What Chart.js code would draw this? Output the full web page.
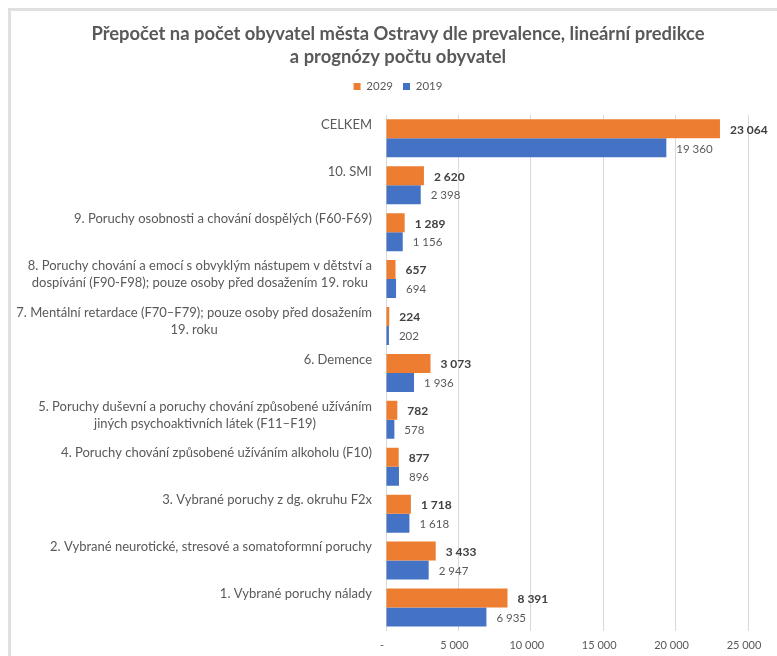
<!DOCTYPE html>
<html>
<head>
<meta charset="utf-8">
<script src="https://cdn.jsdelivr.net/npm/chart.js@4"></script>
<style>
  html, body { margin: 0; padding: 0; background: #fff; }
  #wrap { position: relative; width: 777px; height: 656px; overflow: hidden; }
  #frame { position: absolute; left: 8px; top: 8px; width: 800px; height: 700px;
    border-left: 3px solid #e0e0e0; border-top: 3px solid #e0e0e0; }
  #box { position: absolute; left: 0; top: 0; width: 777px; height: 656px; }
</style>
</head>
<body>
<div id="wrap">
  <div id="frame"></div>
  <div id="box"><canvas id="chart"></canvas></div>
</div>
<script>
const categories = [
  "CELKEM",
  "10. SMI",
  "9. Poruchy osobnosti a chování dospělých (F60-F69)",
  ["8. Poruchy chování a emocí s obvyklým nástupem v dětství a", "dospívání (F90-F98); pouze osoby před dosažením 19. roku"],
  ["7. Mentální retardace (F70–F79); pouze osoby před dosažením", "19. roku"],
  "6. Demence",
  ["5. Poruchy duševní a poruchy chování způsobené užíváním", "jiných psychoaktivních látek (F11–F19)"],
  "4. Poruchy chování způsobené užíváním alkoholu (F10)",
  "3. Vybrané poruchy z dg. okruhu F2x",
  "2. Vybrané neurotické, stresové a somatoformní poruchy",
  "1. Vybrané poruchy nálady"
];
const values2029 = [23064, 2620, 1289, 657, 224, 3073, 782, 877, 1718, 3433, 8391];
const values2019 = [19360, 2398, 1156, 694, 202, 1936, 578, 896, 1618, 2947, 6935];
const xTicks = [0, 5000, 10000, 15000, 20000, 25000];

const FONT = "Lato, 'Liberation Sans', sans-serif";

function fmt(n) {
  return String(n).replace(/\B(?=(\d{3})+(?!\d))/g, " ");
}

// value labels at the end of each bar
const valueLabels = {
  id: "valueLabels",
  afterDatasetsDraw(chart) {
    const ctx = chart.ctx;
    ctx.save();
    ctx.textAlign = "left";
    ctx.textBaseline = "middle";
    chart.data.datasets.forEach((ds, di) => {
      const meta = chart.getDatasetMeta(di);
      ctx.font = di === 0 ? "bold 12px " + FONT : "11.5px " + FONT;
      ctx.fillStyle = di === 0 ? "#404040" : "#595959";
      meta.data.forEach((bar, i) => {
        ctx.fillText(fmt(ds.data[i]), bar.x + 10, bar.y + 1);
      });
    });
    ctx.restore();
  }
};

// category labels, block right aligned, lines centred, top of band
const categoryLabels = {
  id: "categoryLabels",
  afterDraw(chart) {
    const ctx = chart.ctx;
    const y = chart.scales.y;
    const band = (y.bottom - y.top) / categories.length;
    const right = chart.chartArea.left - 14;
    ctx.save();
    ctx.font = "13px " + FONT;
    ctx.fillStyle = "#595959";
    ctx.textAlign = "center";
    ctx.textBaseline = "middle";
    categories.forEach((lab, i) => {
      const lines = Array.isArray(lab) ? lab : [lab];
      const w = Math.max(...lines.map((l) => ctx.measureText(l).width));
      const top = y.getPixelForTick(i) - band / 2;
      lines.forEach((l, k) => {
        ctx.fillText(l, right - w / 2, top + 10 + k * 17.5);
      });
    });
    ctx.restore();
  }
};

new Chart(document.getElementById("chart"), {
  type: "bar",
  data: {
    labels: categories,
    datasets: [
      { label: "2029", data: values2029, backgroundColor: "#ED7D31" },
      { label: "2019", data: values2019, backgroundColor: "#4472C4" }
    ]
  },
  options: {
    indexAxis: "y",
    responsive: true,
    maintainAspectRatio: false,
    animation: false,
    datasets: { bar: { categoryPercentage: 0.81, barPercentage: 1 } },
    layout: { padding: { left: 48, right: 29, top: 0, bottom: 0 } },
    plugins: {
      title: {
        display: true,
        text: ["Přepočet na počet obyvatel města Ostravy dle prevalence, lineární predikce", "a prognózy počtu obyvatel"],
        color: "#595959",
        font: { family: FONT, size: 18.4, weight: "bold", lineHeight: 1.27 },
        padding: { top: 22.3, bottom: 1.7 }
      },
      legend: {
        display: true,
        labels: {
          boxWidth: 7, boxHeight: 7, padding: 10,
          color: "#595959",
          font: { family: FONT, size: 11.5 }
        }
      },
      tooltip: { enabled: false }
    },
    scales: {
      x: {
        min: 0, max: 25000,
        afterBuildTicks(s) { s.ticks = xTicks.map((v) => ({ value: v })); },
        afterFit(s) { s.height = 25; },
        grid: { color: "#d9d9d9", drawTicks: false },
        border: { display: false },
        ticks: {
          padding: 8, labelOffset: -4,
          color: "#595959",
          font: { family: FONT, size: 11 },
          callback: (v) => (v === 0 ? "-" : fmt(v))
        }
      },
      y: {
        grid: { display: false },
        border: { display: false },
        ticks: { display: false },
        afterFit(s) { s.width = 386 - 48; }
      },
      xTop: {
        type: "linear",
        position: "top",
        grid: { display: false },
        border: { display: false },
        ticks: { display: false },
        afterFit(s) { s.height = 12.6; }
      }
    }
  },
  plugins: [valueLabels, categoryLabels]
});
</script>
</body>
</html>
